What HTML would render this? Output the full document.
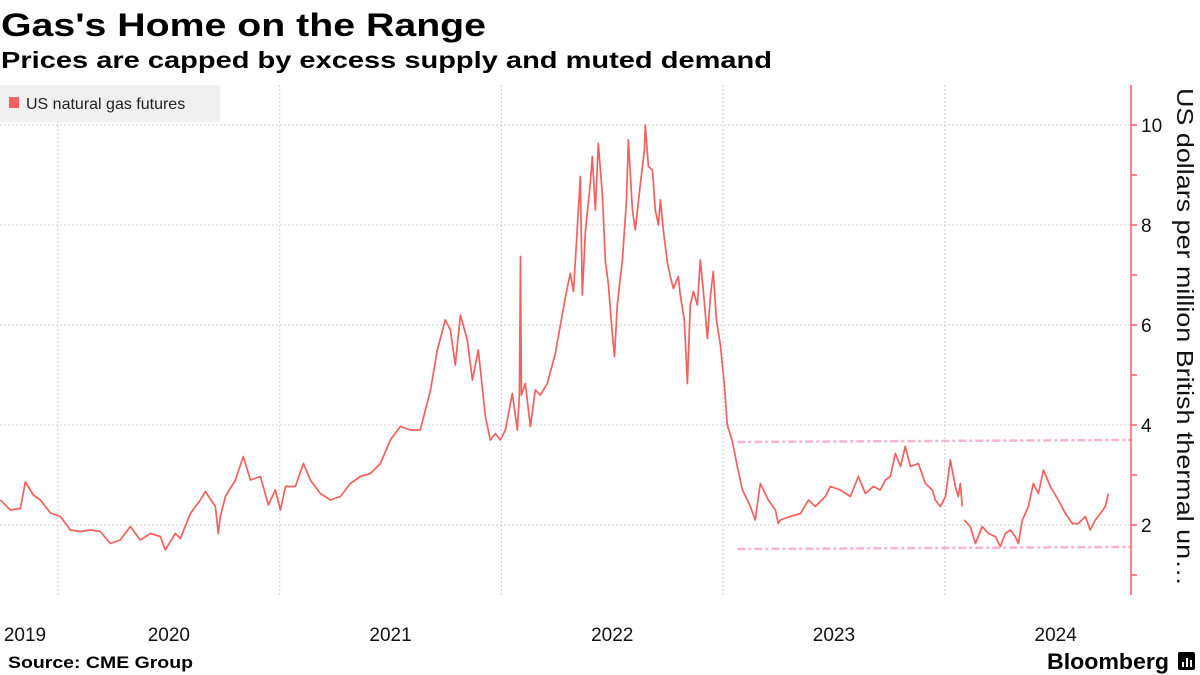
<!DOCTYPE html>
<html><head><meta charset="utf-8">
<style>
html,body{margin:0;padding:0;background:#fff;}
svg{display:block;font-family:"Liberation Sans",sans-serif;}
</style></head>
<body>
<svg id="chart" width="1200" height="675" viewBox="0 0 1200 675" xmlns="http://www.w3.org/2000/svg">
<text x="1" y="36" font-size="32" font-weight="bold" fill="#000" textLength="485" lengthAdjust="spacingAndGlyphs">Gas's Home on the Range</text>
<text x="1" y="68" font-size="23" font-weight="bold" fill="#000" textLength="771" lengthAdjust="spacingAndGlyphs">Prices are capped by excess supply and muted demand</text>
<g id="grid"></g>
<g id="bands"></g>
<path id="line" fill="none" stroke="#f2605f" stroke-width="1.7" stroke-linejoin="round"></path>
<g id="axis"></g>
<g id="xaxis"></g>
<g>
<rect x="0" y="85" width="220" height="37" fill="#f0f0f0"></rect>
<rect x="9" y="97" width="10" height="11" fill="#f2605f"></rect>
<text x="26" y="109" font-size="16" fill="#222">US natural gas futures</text>
</g>
<text transform="translate(1177,88) rotate(90)" font-size="23" fill="#111" textLength="498" lengthAdjust="spacingAndGlyphs">US dollars per million British thermal un…</text>
<text x="8" y="668" font-size="17" font-weight="bold" fill="#000" textLength="185" lengthAdjust="spacingAndGlyphs">Source: CME Group</text>
<text x="1047" y="669" font-size="22" font-weight="bold" fill="#000" textLength="122" lengthAdjust="spacingAndGlyphs">Bloomberg</text>
<rect x="1178" y="652" width="17" height="18" rx="2" fill="#000"></rect>
<rect x="1182" y="662" width="2" height="5" fill="#fff"></rect><rect x="1186" y="658" width="2" height="9" fill="#fff"></rect><rect x="1190" y="660" width="2" height="7" fill="#fff"></rect>
</svg>
<script>
const dates=[2019.740,2019.785,2019.830,2019.853,2019.889,2019.920,2019.966,2020.011,2020.056,2020.101,2020.146,2020.191,2020.236,2020.281,2020.326,2020.371,2020.417,2020.462,2020.484,2020.529,2020.552,2020.597,2020.642,2020.665,2020.710,2020.723,2020.732,2020.755,2020.800,2020.836,2020.868,2020.913,2020.949,2020.980,2021.003,2021.026,2021.071,2021.107,2021.138,2021.183,2021.229,2021.274,2021.319,2021.364,2021.409,2021.454,2021.499,2021.544,2021.589,2021.634,2021.680,2021.711,2021.747,2021.770,2021.792,2021.815,2021.846,2021.869,2021.896,2021.928,2021.950,2021.973,2021.995,2022.018,2022.049,2022.072,2022.081,2022.086,2022.090,2022.108,2022.131,2022.153,2022.176,2022.207,2022.243,2022.275,2022.298,2022.311,2022.325,2022.343,2022.356,2022.365,2022.379,2022.401,2022.410,2022.424,2022.437,2022.455,2022.469,2022.482,2022.500,2022.510,2022.523,2022.546,2022.564,2022.573,2022.591,2022.604,2022.627,2022.645,2022.649,2022.663,2022.681,2022.694,2022.708,2022.717,2022.731,2022.749,2022.762,2022.776,2022.798,2022.807,2022.825,2022.839,2022.852,2022.866,2022.884,2022.897,2022.911,2022.929,2022.943,2022.956,2022.970,2022.988,2023.006,2023.019,2023.042,2023.064,2023.087,2023.109,2023.123,2023.145,2023.168,2023.204,2023.236,2023.249,2023.258,2023.303,2023.349,2023.385,2023.416,2023.461,2023.484,2023.529,2023.574,2023.610,2023.642,2023.678,2023.709,2023.732,2023.754,2023.777,2023.800,2023.822,2023.845,2023.881,2023.912,2023.944,2023.957,2023.980,2024.003,2024.025,2024.048,2024.061,2024.070,2024.079,2024.088,2024.115,2024.138,2024.169,2024.196,2024.228,2024.251,2024.273,2024.296,2024.318,2024.332,2024.350,2024.377,2024.399,2024.422,2024.445,2024.476,2024.512,2024.544,2024.575,2024.602,2024.634,2024.656,2024.679,2024.702,2024.724,2024.738];
const prices=[2.5,2.3,2.33,2.86,2.6,2.5,2.24,2.17,1.9,1.87,1.9,1.87,1.63,1.7,1.97,1.7,1.83,1.77,1.5,1.83,1.73,2.23,2.5,2.67,2.37,1.83,2.17,2.57,2.9,3.37,2.9,2.97,2.4,2.7,2.3,2.77,2.77,3.23,2.9,2.63,2.5,2.57,2.83,2.97,3.03,3.23,3.7,3.97,3.9,3.9,4.7,5.5,6.1,5.9,5.2,6.2,5.7,4.9,5.5,4.17,3.7,3.83,3.7,3.9,4.63,3.9,4.6,7.37,4.6,4.83,3.97,4.7,4.6,4.83,5.43,6.23,6.77,7.03,6.67,7.97,8.97,6.6,7.87,8.83,9.37,8.3,9.63,8.63,7.27,6.83,5.83,5.37,6.4,7.3,8.47,9.7,8.3,7.9,8.83,9.5,10.0,9.17,9.1,8.3,8.0,8.5,7.87,7.23,6.97,6.73,6.97,6.6,6.1,4.83,6.4,6.67,6.4,7.3,6.67,5.73,6.6,7.07,6.1,5.6,4.8,4.0,3.67,3.17,2.7,2.5,2.37,2.1,2.83,2.5,2.3,2.03,2.1,2.17,2.23,2.5,2.37,2.57,2.77,2.7,2.57,2.97,2.63,2.77,2.7,2.9,2.97,3.43,3.17,3.57,3.17,3.23,2.83,2.7,2.5,2.37,2.57,3.3,2.77,2.57,2.83,2.37,2.1,1.97,1.63,1.97,1.83,1.77,1.57,1.83,1.9,1.77,1.63,2.1,2.37,2.83,2.63,3.1,2.77,2.5,2.23,2.03,2.03,2.17,1.9,2.1,2.23,2.37,2.63];
const gapAfter=[2024.079];
const yTicks=[2,4,6,8,10];
const yMinor=[1,2,3,4,5,6,7,8,9,10];
const xYears=[2020,2021,2022,2023,2024];
const xLabels=["2019","2020","2021","2022","2023","2024"];
const upperBand=[[2023.064,3.66],[2024.84,3.70]];
const lowerBand=[[2023.064,1.52],[2024.84,1.56]];

const X=t=>58+(t-2020)*221.7;
const Y=v=>625-v*50;
const NS="http://www.w3.org/2000/svg";
function mk(tag,attrs,parent){const e=document.createElementNS(NS,tag);for(const k in attrs)e.setAttribute(k,attrs[k]);parent.appendChild(e);return e;}
const grid=document.getElementById('grid');
yTicks.forEach(v=>{
  const l=mk('line',{x1:0,x2:1131,y1:Y(v),y2:Y(v),stroke:'#d0d0d0','stroke-width':1,'stroke-dasharray':'2,2'},grid);
  
  
});
xYears.forEach(t=>{
  const l=mk('line',{x1:X(t),x2:X(t),y1:85,y2:595,stroke:'#d0d0d0','stroke-width':1,'stroke-dasharray':'2,2'},grid);
  
  
});
const bands=document.getElementById('bands');
[upperBand,lowerBand].forEach((b,i)=>{
  const l=mk('line',{x1:X(b[0][0]),y1:Y(b[0][1]),x2:X(b[1][0]),y2:Y(b[1][1]),stroke:'#f7b3d3','stroke-width':2.5,'stroke-dasharray':'8,3,3,3'},bands);
  
  
});
let d='';
dates.forEach((t,i)=>{
  const cmd=(i===0||gapAfter.includes(dates[i-1]))?'M':'L';
  d+=cmd+X(t).toFixed(1)+','+Y(prices[i]).toFixed(1);
});
document.getElementById('line').setAttribute('d',d);
const ax=document.getElementById('axis');
const al=mk('line',{x1:1131,x2:1131,y1:85,y2:595,stroke:'#f2605f','stroke-width':1.5},ax);


yMinor.forEach(v=>{
  const tk=mk('line',{x1:1131,x2:1137,y1:Y(v),y2:Y(v),stroke:'#f2605f','stroke-width':1.5},ax);
  
  
});
yTicks.forEach(v=>{
  const tx=mk('text',{x:1141,y:Y(v)+7,'font-size':19,fill:'#111'},ax);
  tx.textContent=String(v);
  
  
});
const xa=document.getElementById('xaxis');
xLabels.forEach((s,i)=>{
  const mid=X(2019.5+i);
  const cx=Math.max(mid,25);
  const tx=mk('text',{x:cx,y:641,'font-size':19,fill:'#111','text-anchor':'middle'},xa);
  tx.textContent=s;
  
  
});
</script>
</body></html>
